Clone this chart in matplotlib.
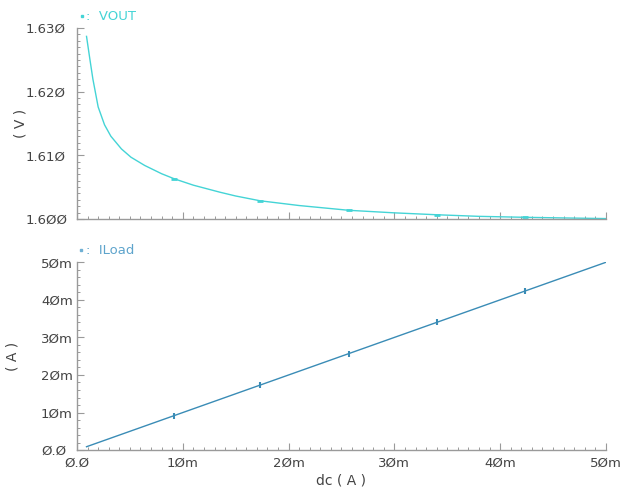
import matplotlib
matplotlib.use("Agg")
import matplotlib.pyplot as plt
from matplotlib.ticker import MultipleLocator, FixedLocator

# dc sweep of the load current (A)
dc_vout = [0.9e-3, 1.2e-3, 1.5e-3, 2.0e-3, 2.6e-3, 3.2e-3, 4.2e-3, 5.1e-3, 6.4e-3,
           8.0e-3, 9.2e-3, 11.0e-3, 13.5e-3, 15.0e-3, 17.3e-3, 21.0e-3, 25.7e-3,
           30.0e-3, 34.0e-3, 38.0e-3, 42.3e-3, 46.0e-3, 50.0e-3]
vout = [1.62870, 1.62530, 1.62200, 1.61760, 1.61480, 1.61300, 1.61100, 1.60970,
        1.60840, 1.60710, 1.60630, 1.60530, 1.60420, 1.60360, 1.60285, 1.60210,
        1.60135, 1.60095, 1.60065, 1.60040, 1.60025, 1.60015, 1.60005]

dc_iload = [0.9e-3, 9.2e-3, 17.3e-3, 25.7e-3, 34.0e-3, 42.3e-3, 50.0e-3]
iload = [0.9e-3, 9.2e-3, 17.3e-3, 25.7e-3, 34.0e-3, 42.3e-3, 50.0e-3]

# where the waveform markers sit
mark_dc = [9.2e-3, 17.3e-3, 25.7e-3, 34.0e-3, 42.3e-3]
mark_vout = [1.60630, 1.60285, 1.60135, 1.60065, 1.60025]
mark_iload = [9.2e-3, 17.3e-3, 25.7e-3, 34.0e-3, 42.3e-3]

x_ticks = [0, 10e-3, 20e-3, 30e-3, 40e-3, 50e-3]
x_labels = ["Ø.Ø", "1Øm", "2Øm", "3Øm", "4Øm", "5Øm"]
v_ticks = [1.600, 1.610, 1.620, 1.630]
v_labels = ["1.6ØØ", "1.61Ø", "1.62Ø", "1.63Ø"]
i_ticks = [0, 10e-3, 20e-3, 30e-3, 40e-3, 50e-3]
i_labels = ["Ø.Ø", "1Øm", "2Øm", "3Øm", "4Øm", "5Øm"]

c_vout = "#44d4d6"
c_iload = "#3a8cb6"
c_axis = "#9a9a9a"
c_text = "#444444"

plt.rcParams["font.family"] = ["DejaVu Sans"]

fig = plt.figure(figsize=(6.24, 4.93), dpi=100)
fig.patch.set_facecolor("white")
ax1 = fig.add_axes([0.1234, 0.556, 0.8477, 0.387])
ax2 = fig.add_axes([0.1234, 0.087, 0.8477, 0.381])


def style(ax):
    for s in ["top", "right"]:
        ax.spines[s].set_visible(False)
    for s in ["left", "bottom"]:
        ax.spines[s].set_color(c_axis)
        ax.spines[s].set_linewidth(1.0)
    ax.tick_params(which="both", direction="in", color=c_axis, labelcolor=c_text,
                   labelsize=9.5)
    ax.tick_params(which="major", length=5, width=0.8)
    ax.tick_params(which="minor", length=2.5, width=0.7)
    ax.set_xlim(0, 50e-3)
    ax.xaxis.set_major_locator(FixedLocator(x_ticks))
    ax.xaxis.set_minor_locator(MultipleLocator(1e-3))


# VOUT
style(ax1)
ax1.plot(dc_vout, vout, color=c_vout, lw=1.0)
ax1.plot(mark_dc, mark_vout, ls="none", marker="_", ms=5, mew=2, color=c_vout)
ax1.set_ylim(1.600, 1.630)
ax1.yaxis.set_major_locator(FixedLocator(v_ticks))
ax1.yaxis.set_minor_locator(MultipleLocator(0.001))
ax1.set_yticklabels(v_labels, ha="left")
ax1.tick_params(axis="y", pad=37)
ax1.set_xticklabels([])
ax1.set_ylabel("( V )", color=c_text, fontsize=10)
ax1.yaxis.set_label_coords(-0.093, 0.5)
ax1.plot([0.009], [1.063], transform=ax1.transAxes, clip_on=False,
         marker="s", ms=2, color=c_vout)
ax1.text(0.017, 1.063, ":  VOUT", transform=ax1.transAxes, color=c_vout,
         fontsize=9.5, va="center", ha="left")

# ILoad
style(ax2)
ax2.plot(dc_iload, iload, color=c_iload, lw=1.0)
ax2.plot(mark_dc, mark_iload, ls="none", marker="|", ms=5, mew=1.5, color=c_iload)
ax2.set_ylim(0, 50e-3)
ax2.yaxis.set_major_locator(FixedLocator(i_ticks))
ax2.yaxis.set_minor_locator(MultipleLocator(2e-3))
ax2.set_yticklabels(i_labels, ha="left")
ax2.tick_params(axis="y", pad=26)
ax2.set_xticklabels(x_labels)
ax2.tick_params(axis="x", pad=5)
ax2.set_ylabel("( A )", color=c_text, fontsize=10)
ax2.yaxis.set_label_coords(-0.108, 0.5)
ax2.set_xlabel("dc ( A )", color=c_text, fontsize=10)
ax2.xaxis.set_label_coords(0.5, -0.125)
ax2.plot([0.008], [1.064], transform=ax2.transAxes, clip_on=False,
         marker="s", ms=2, color="#6fb0d4")
ax2.text(0.017, 1.064, ":  ILoad", transform=ax2.transAxes, color="#5ea4cc",
         fontsize=9.5, va="center", ha="left")

fig.savefig("out.png", dpi=100, facecolor="white")
